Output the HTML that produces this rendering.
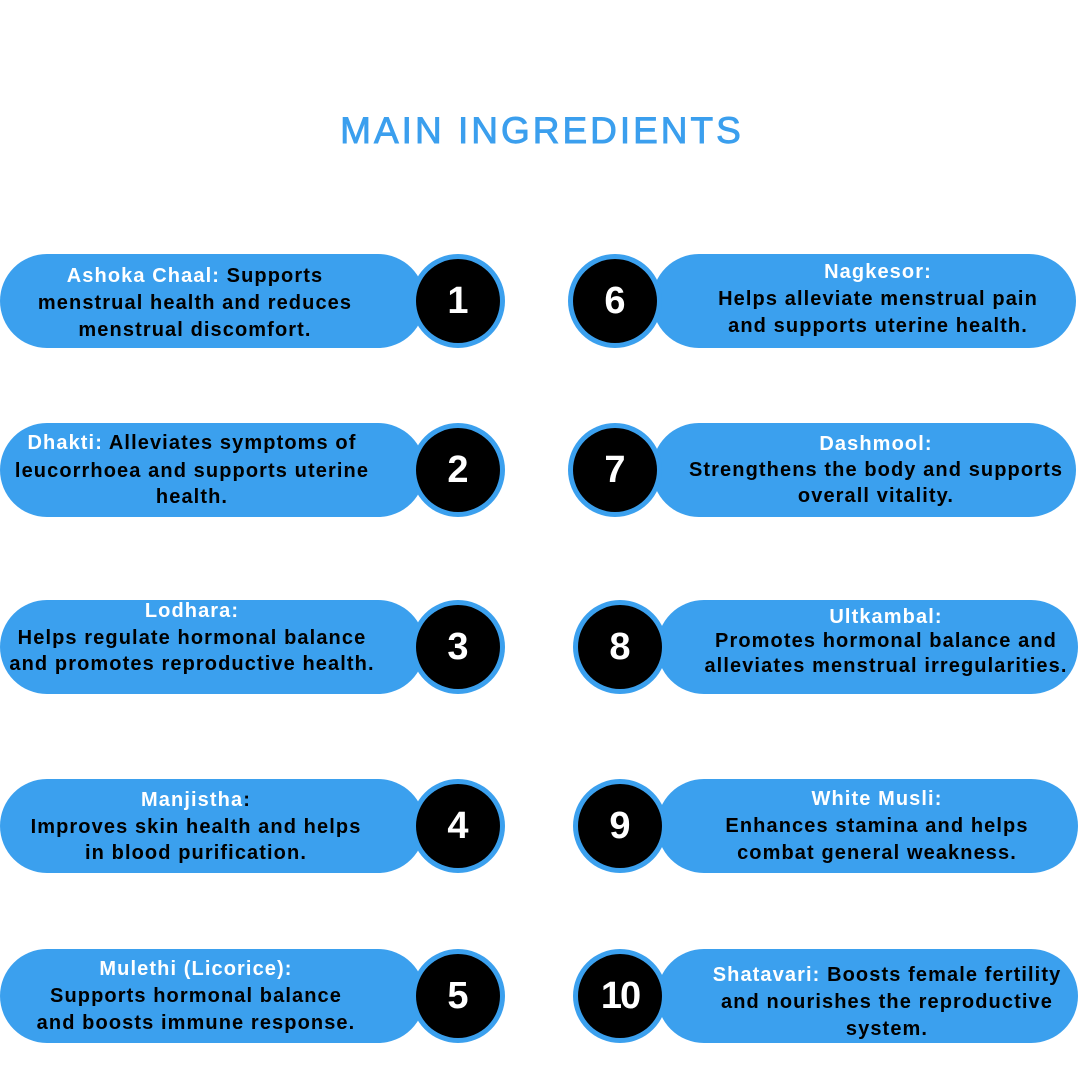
<!DOCTYPE html>
<html><head><meta charset="utf-8"><style>
html,body{margin:0;padding:0;background:#fff;}
svg{display:block;}
text{font-family:"Liberation Sans",sans-serif;font-weight:bold;}
</style></head><body>
<svg width="1080" height="1080" viewBox="0 0 1080 1080">
<text x="542" y="143" text-anchor="middle" font-size="37" fill="#3B9FEE" stroke="#3B9FEE" stroke-width="0.9" letter-spacing="3" style="font-weight:normal">MAIN INGREDIENTS</text>
<g fill="#3BA0EE">
<rect x="0" y="254" width="425" height="94" rx="47"/><rect x="395" y="281" width="50" height="40"/><circle cx="458" cy="301" r="47"/>
<rect x="0" y="423" width="425" height="94" rx="47"/><rect x="395" y="450" width="50" height="40"/><circle cx="458" cy="470" r="47"/>
<rect x="0" y="600" width="425" height="94" rx="47"/><rect x="395" y="627" width="50" height="40"/><circle cx="458" cy="647" r="47"/>
<rect x="0" y="779" width="425" height="94" rx="47"/><rect x="395" y="806" width="50" height="40"/><circle cx="458" cy="826" r="47"/>
<rect x="0" y="949" width="425" height="94" rx="47"/><rect x="395" y="976" width="50" height="40"/><circle cx="458" cy="996" r="47"/>
<rect x="652" y="254" width="424" height="94" rx="47"/><rect x="630" y="281" width="50" height="40"/><circle cx="615" cy="301" r="47"/>
<rect x="652" y="423" width="424" height="94" rx="47"/><rect x="630" y="450" width="50" height="40"/><circle cx="615" cy="470" r="47"/>
<rect x="657" y="600" width="421" height="94" rx="47"/><rect x="635" y="627" width="50" height="40"/><circle cx="620" cy="647" r="47"/>
<rect x="657" y="779" width="421" height="94" rx="47"/><rect x="635" y="806" width="50" height="40"/><circle cx="620" cy="826" r="47"/>
<rect x="657" y="949" width="421" height="94" rx="47"/><rect x="635" y="976" width="50" height="40"/><circle cx="620" cy="996" r="47"/>
</g>
<g fill="#000">
<circle cx="458" cy="301" r="42"/><circle cx="458" cy="470" r="42"/><circle cx="458" cy="647" r="42"/><circle cx="458" cy="826" r="42"/><circle cx="458" cy="996" r="42"/>
<circle cx="615" cy="301" r="42"/><circle cx="615" cy="470" r="42"/><circle cx="620" cy="647" r="42"/><circle cx="620" cy="826" r="42"/><circle cx="620" cy="996" r="42"/>
</g>
<g fill="#fff" font-size="38" text-anchor="middle" dominant-baseline="central">
<text x="458" y="301">1</text><text x="458" y="470">2</text><text x="458" y="647">3</text><text x="458" y="826">4</text><text x="458" y="996">5</text>
<text x="615" y="301">6</text><text x="615" y="470">7</text><text x="620" y="647">8</text><text x="620" y="826">9</text><text x="620" y="996" letter-spacing="-2">10</text>
</g>
<g font-size="20" letter-spacing="1.1" text-anchor="middle" dominant-baseline="central" fill="#000">
<text x="195" y="276"><tspan fill="#fff">Ashoka Chaal:</tspan> Supports</text>
<text x="195" y="303">menstrual health and reduces</text>
<text x="195" y="330">menstrual discomfort.</text>
<text x="192" y="443"><tspan fill="#fff">Dhakti:</tspan> Alleviates symptoms of</text>
<text x="192" y="471">leucorrhoea and supports uterine</text>
<text x="192" y="497">health.</text>
<text x="192" y="611" fill="#fff">Lodhara:</text>
<text x="192" y="638">Helps regulate hormonal balance</text>
<text x="192" y="664">and promotes reproductive health.</text>
<text x="196" y="800"><tspan fill="#fff">Manjistha</tspan>:</text>
<text x="196" y="827">Improves skin health and helps</text>
<text x="196" y="853">in blood purification.</text>
<text x="196" y="969" fill="#fff">Mulethi (Licorice):</text>
<text x="196" y="996">Supports hormonal balance</text>
<text x="196" y="1023">and boosts immune response.</text>
<text x="878" y="272" fill="#fff">Nagkesor:</text>
<text x="878" y="299">Helps alleviate menstrual pain</text>
<text x="878" y="326">and supports uterine health.</text>
<text x="876" y="444" fill="#fff">Dashmool:</text>
<text x="876" y="470">Strengthens the body and supports</text>
<text x="876" y="496">overall vitality.</text>
<text x="886" y="617" fill="#fff">Ultkambal:</text>
<text x="886" y="641">Promotes hormonal balance and</text>
<text x="886" y="666">alleviates menstrual irregularities.</text>
<text x="877" y="799" fill="#fff">White Musli:</text>
<text x="877" y="826">Enhances stamina and helps</text>
<text x="877" y="853">combat general weakness.</text>
<text x="887" y="975"><tspan fill="#fff">Shatavari:</tspan> Boosts female fertility</text>
<text x="887" y="1002">and nourishes the reproductive</text>
<text x="887" y="1029">system.</text>
</g>
</svg>
</body></html>
